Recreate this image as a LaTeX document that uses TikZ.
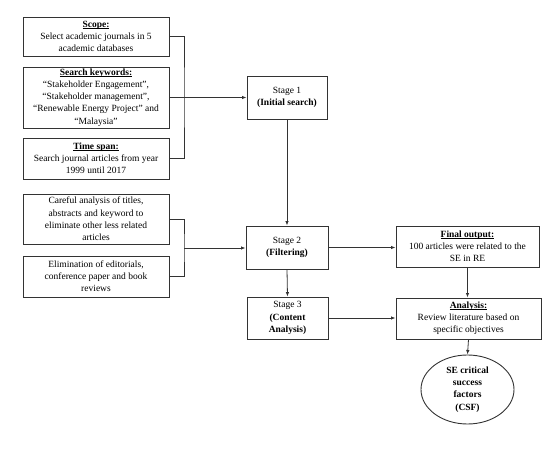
\documentclass[tikz,border=0pt]{standalone}
\usepackage{fontspec}
\setmainfont{Liberation Serif}
\usetikzlibrary{shapes.geometric,arrows.meta}
\definecolor{ln}{HTML}{333333}
\tikzset{
  box/.style={draw=ln, line width=0.9pt, align=center, inner sep=1pt, font=\fontsize{9.5}{12.2}\selectfont},
  con/.style={draw=ln, line width=0.8pt},
  arr/.style={con, -{Latex[length=4.5pt,width=3.5pt]}}
}
\newcommand{\hdr}[1]{\setbox0\hbox{\textbf{#1}}\rlap{\rule[-1.2pt]{\wd0}{0.45pt}}\box0}
\begin{document}
\begin{tikzpicture}[x=1pt,y=-1pt]
\useasboundingbox (0,0) rectangle (560,452);
\node[box, minimum width=146pt, minimum height=39pt] (scope) at (96,36.5) {\hdr{Scope:}\\Select academic journals in 5\\academic databases};
\node[box, minimum width=146pt, minimum height=61pt] (kw) at (96,97.5) {\hdr{Search keywords:}\\``Stakeholder Engagement'',\\``Stakeholder management'',\\``Renewable Energy Project'' and\\``Malaysia''};
\node[box, minimum width=146pt, minimum height=41pt] (time) at (96,158.5) {\hdr{Time span:}\\Search journal articles from year\\1999 until 2017};
\node[box, minimum width=80pt, minimum height=43pt] (s1) at (287,97.5) {Stage 1\\\textbf{(Initial search)}};
\node[box, minimum width=146pt, minimum height=50pt] (care) at (96,219) {Careful analysis of titles,\\abstracts and keyword to\\eliminate other less related\\articles};
\node[box, minimum width=146pt, minimum height=41pt] (elim) at (96,276.5) {Elimination of editorials,\\conference paper and book\\reviews};
\node[box, minimum width=82pt, minimum height=43pt] (s2) at (287,247.5) {Stage 2\\\textbf{(Filtering)}};
\node[box, minimum width=143pt, minimum height=41pt] (final) at (467.5,246.5) {\hdr{Final output:}\\100 articles were related to the\\SE in RE};
\node[box, minimum width=81pt, minimum height=42pt] (s3) at (287.5,318) {Stage 3\\\textbf{(Content}\\\textbf{Analysis)}};
\node[box, minimum width=145pt, minimum height=41pt] (ana) at (468.5,318.5) {\hdr{Analysis:}\\Review literature based on\\specific objectives};
\node[box, ellipse, minimum width=93pt, minimum height=69pt, inner sep=0pt] (csf) at (467.5,389.5) {\textbf{SE critical}\\\textbf{success}\\\textbf{factors}\\\textbf{(CSF)}};
\coordinate (b1) at (184,97.5);
\coordinate (b2) at (184,248);
\draw[con] (scope.east) -| (b1) |- (time.east);
\draw[con] (kw.east) -- (b1);
\draw[arr] (b1) -- (s1.west);
\draw[con] (care.east) -| (b2) |- (elim.east);
\draw[arr] (b2) -- (b2 -| s2.west);
\draw[arr] (s1.south) -- (s2.north);
\draw[arr] (s2.south) -- (s3.north);
\draw[arr] (s2.east) -- (s2.east -| final.west);
\draw[arr] (final.south) -- (final.south |- ana.north);
\draw[arr] (s3.east) -- (s3.east -| ana.west);
\draw[arr] (ana.south) -- (csf.north);
\end{tikzpicture}
\end{document}
